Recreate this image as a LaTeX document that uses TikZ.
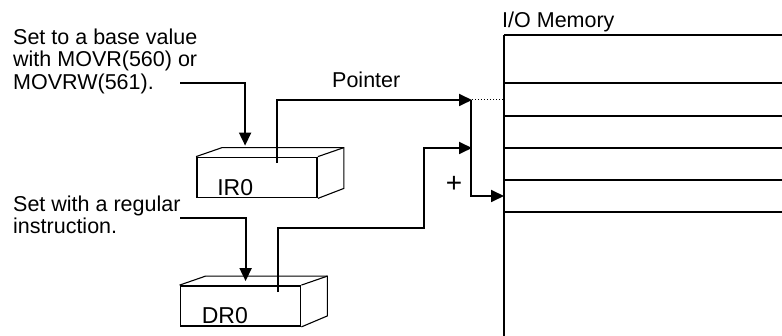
\documentclass[tikz,border=0pt]{standalone}
\usepackage{fontspec}
\setmainfont{Liberation Sans}
\usetikzlibrary{arrows.meta,calc}

\begin{document}
\begin{tikzpicture}[
  x=1pt, y=-1pt,
  >={Triangle[length=13pt,width=12pt]},
  txt/.style={font=\fontsize{21.5}{22.5}\selectfont, inner sep=0pt},
  note/.style={txt, align=left, anchor=north west},
  regbox/.style={draw, line width=1.8pt, minimum width=120pt, minimum height=40pt, inner sep=0pt},
  regname/.style={font=\fontsize{23}{24}\selectfont, inner sep=0pt, anchor=base west},
  back/.style={line width=1.1pt},
  wire/.style={line width=1.8pt},
  arrow/.style={wire, ->}
]
  \useasboundingbox (0,0) rectangle (782,336);

  % texts on the left
  \node[note] (basenote) at (13,28.5) {Set to a base value\\with MOVR(560) or\\MOVRW(561).};
  \node[note] (regnote) at (13,195.5) {Set with a regular\\instruction.};
  \node[txt, anchor=base west] (ptrlabel) at (332,88) {Pointer};
  \node[txt, font=\fontsize{28}{28}\selectfont] (plus) at (454,184) {+};

  % the two registers
  \node[regbox] (ir0) at (257,177.5) {};
  \node[regname] at ($(ir0.south west)+(21,-3)$) {IR0};
  \draw[back] (ir0.north west) -- ++(26,-9) -- ($(ir0.north east)+(26,-9)$)
    -- ($(ir0.south east)+(26,-10)$) -- (ir0.south east);
  \draw[back] (ir0.north east) -- ++(26,-9);

  \node[regbox] (dr0) at (240.5,306) {};
  \node[regname] at ($(dr0.south west)+(22,-3)$) {DR0};
  \draw[back] (dr0.north west) -- ++(26,-9) -- ($(dr0.north east)+(26,-9)$)
    -- ($(dr0.south east)+(26,-11)$) -- (dr0.south east);
  \draw[back] (dr0.north east) -- ++(26,-9);

  % I/O memory
  \node[anchor=north west, minimum width=278pt, minimum height=301pt, inner sep=0pt] (mem) at (504,35) {};
  \node[txt, anchor=base west] (memlabel) at (502,28) {I/O Memory};
  \draw[line width=2.4pt] (mem.south west) -- (mem.north west);
  \draw[line width=2pt] (mem.north west) -- (mem.north east);
  \foreach \y/\w in {83/1.2pt, 116/1.8pt, 148/1.2pt, 180/1.2pt, 212/1.2pt}
    \draw[line width=\w] (mem.west |- 0,\y) -- (mem.east |- 0,\y);

  % connectors
  \coordinate (ina) at (180,83);
  \coordinate (inb) at (180,218);
  \coordinate (tipa) at (472,100);
  \coordinate (tipb) at (472,148);
  \coordinate (bend) at (424,228);
  \coordinate (sum) at (471,196);

  \draw[arrow] (ina) -| ($(ir0.north west)+(49,-11)$);
  \draw[arrow] (inb) -| ($(dr0.north west)+(66,-4)$);
  \draw[arrow] ($(ir0.north west)+(81,6)$) |- (tipa);
  \draw[arrow] ($(dr0.north west)+(98,7)$) |- (bend) |- (tipb);
  \draw[dotted, line width=1pt] (tipa) -- (mem.west |- tipa);
  \draw[arrow] (tipa -| sum) -- (sum) -- (mem.west |- sum);
\end{tikzpicture}
\end{document}
